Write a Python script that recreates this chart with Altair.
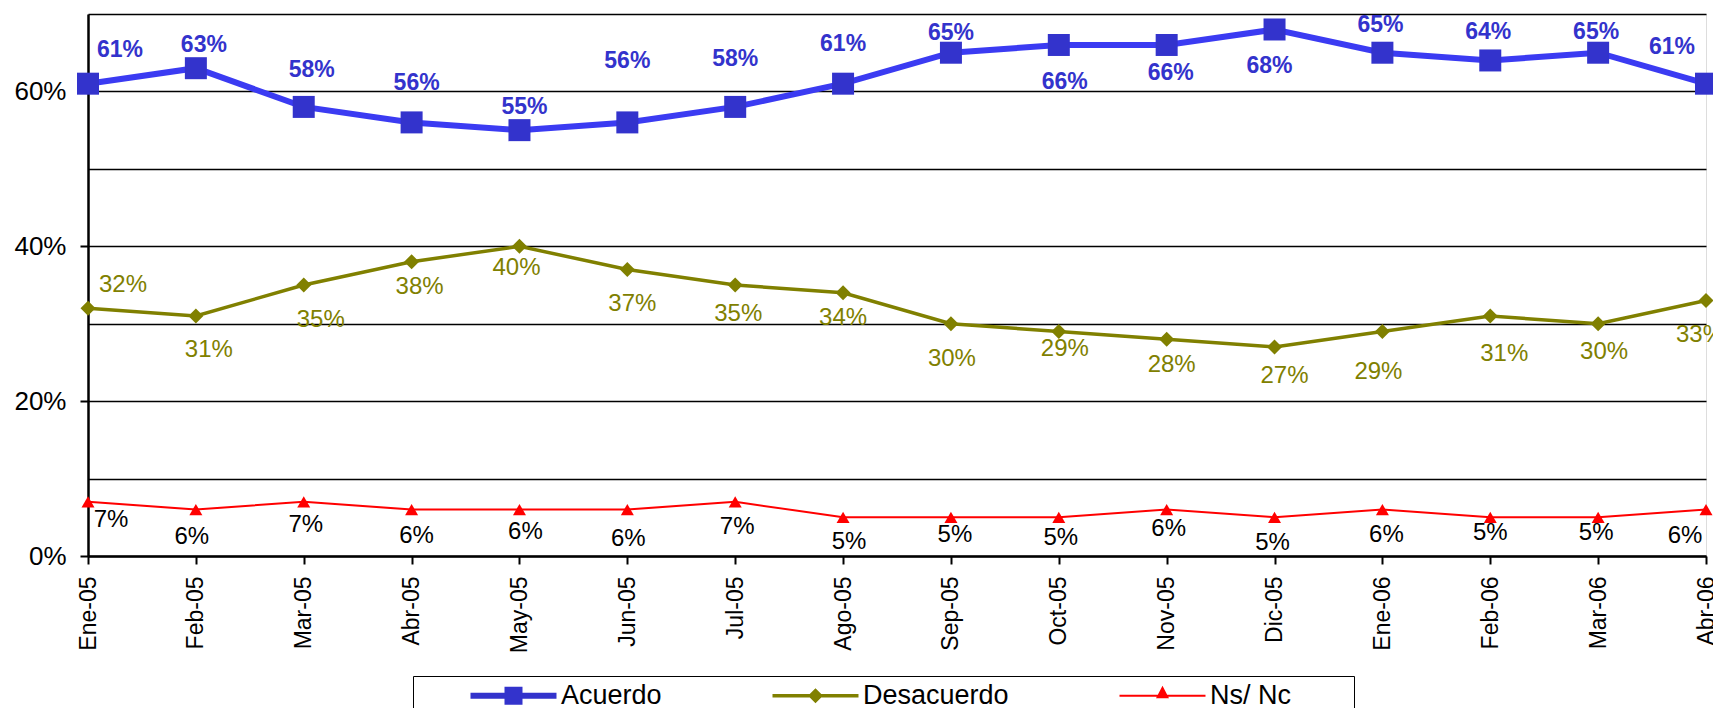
import json
import altair as alt
import pandas as pd

# ---------------- data ----------------
MONTHS = ["Ene-05", "Feb-05", "Mar-05", "Abr-05", "May-05", "Jun-05", "Jul-05", "Ago-05",
          "Sep-05", "Oct-05", "Nov-05", "Dic-05", "Ene-06", "Feb-06", "Mar-06", "Abr-06"]
ACUERDO = [61, 63, 58, 56, 55, 56, 58, 61, 65, 66, 66, 68, 65, 64, 65, 61]
DESACUERDO = [32, 31, 35, 38, 40, 37, 35, 34, 30, 29, 28, 27, 29, 31, 30, 33]
NSNC = [7, 6, 7, 6, 6, 6, 7, 5, 5, 5, 6, 5, 6, 5, 5, 6]
SERIES = ["Acuerdo", "Desacuerdo", "Ns/ Nc"]

# data-label placement (pixel offsets from each point: dx right, dy down)
ACU_DX = [32, 8, 8, 5, 5, 0, 0, 0, 0, 6, 4, -5, -2, -2, -2, -34]
ACU_DY = [-34, -23, -37, -39, -23, -61, -48, -40, -20, 37, 28, 37, -28, -28, -21, -37]
DES_DX = [35, 13, 17, 8, -3, 5, 3, 0, 1, 6, 5, 10, -4, 14, 6, -6]
DES_DY = [-23, 34, 35, 25, 22, 34, 29, 25, 35, 18, 26, 29, 41, 38, 28, 35]
NS_DX = [23, -4, 2, 5, 6, 1, 2, 6, 4, 2, 2, -2, 4, 0, -2, -21]
NS_DY = [18, 27, 23, 26, 22, 29, 25, 25, 18, 21, 19, 26, 25, 16, 16, 26]

# ---------------- layout / style ----------------
W, H = 1618, 542
YMAX = 70
XMAX = len(MONTHS) - 1
PX_X = W / XMAX
PX_Y = H / YMAX
FONT = "Liberation Sans"

COLORS = {"Acuerdo": "#3333CC", "Desacuerdo": "#808000", "Ns/ Nc": "#FF0000"}
LINE_COLORS = {"Acuerdo": "#3B3BF2", "Desacuerdo": "#808000", "Ns/ Nc": "#FF0000"}
LINE_W = {"Acuerdo": 6, "Desacuerdo": 3.5, "Ns/ Nc": 2}
SHAPES = {"Acuerdo": "square", "Desacuerdo": "diamond", "Ns/ Nc": "triangle-up"}
SIZES = {"Acuerdo": 484, "Desacuerdo": 225, "Ns/ Nc": 169}
LABEL_STYLE = {
    "Acuerdo": dict(color="#3333CC", fontWeight="bold", fontSize=23),
    "Desacuerdo": dict(color="#808000", fontWeight="normal", fontSize=24),
    "Ns/ Nc": dict(color="black", fontWeight="normal", fontSize=24),
}
# legend symbols: line segment + marker (unit = 11 px, symbol centred 11 px from entry start)
# the last one carries a tiny far-right sub-path so the legend box keeps its right margin
LEGEND_PATHS = [
    "M-1,-0.273H6.818V0.273H-1Z M2.091,-0.818H3.727V0.818H2.091Z",
    "M-1,-0.159H6.818V0.159H-1Z M2.909,-0.682L3.591,0L2.909,0.682L2.227,0Z",
    "M-1,-0.091H6.818V0.091H-1Z M2.909,-0.9L3.5,0.23L2.318,0.23Z M19.7,0L19.7,0.01L19.69,0.01Z",
]

rows = []
for name, vals, dxs, dys in [("Acuerdo", ACUERDO, ACU_DX, ACU_DY),
                             ("Desacuerdo", DESACUERDO, DES_DX, DES_DY),
                             ("Ns/ Nc", NSNC, NS_DX, NS_DY)]:
    for i, (v, dx, dy) in enumerate(zip(vals, dxs, dys)):
        rows.append({"i": i, "month": MONTHS[i], "series": name, "value": v,
                     "label": f"{v}%", "lx": i + dx / PX_X, "ly": v - dy / PX_Y})
df = pd.DataFrame(rows)

x_axis = alt.Axis(
    values=list(range(len(MONTHS))),
    labelExpr=f"{json.dumps(MONTHS)}[datum.value]",
    labelAngle=270, labelAlign="right", labelBaseline="middle",
    labelPadding=12, labelFontSize=23, labelFont=FONT, labelColor="black",
    labelFlush=False, labelOverlap=False,
    tickSize=8, tickWidth=2, tickColor="black",
    domainColor="black", domainWidth=2.5, grid=False, title=None,
)
y_axis = alt.Axis(
    values=list(range(0, YMAX + 1, 10)),
    labelExpr="datum.value % 20 == 0 && datum.value < 70 ? datum.value + '%' : ''",
    labelPadding=14, labelFontSize=26, labelFont=FONT, labelColor="black",
    tickSize=8, tickWidth=2, tickColor="black",
    tickOpacity={"condition": {"test": "datum.value % 20 == 0 && datum.value < 70", "value": 1}, "value": 0},
    domainColor="black", domainWidth=2.5,
    grid=True, gridColor="black", gridWidth=1.6, title=None,
)


def X(field):
    return alt.X(f"{field}:Q", scale=alt.Scale(domain=[0, XMAX], nice=False, zero=False), axis=x_axis)


def Y(field):
    return alt.Y(f"{field}:Q", scale=alt.Scale(domain=[0, YMAX], nice=False), axis=y_axis)


base = alt.Chart(df)
lines, points, texts = [], [], []
for s in SERIES:
    sub = base.transform_filter(alt.datum.series == s)
    lines.append(sub.mark_line(color=LINE_COLORS[s], strokeWidth=LINE_W[s]).encode(
        x=X("i"), y=Y("value"), order="i:Q"))
    points.append(sub.mark_point(shape=SHAPES[s], filled=True, size=SIZES[s], opacity=1,
                                 color=COLORS[s]).encode(x=X("i"), y=Y("value")))
    st = LABEL_STYLE[s]
    texts.append(sub.mark_text(font=FONT, align="center", baseline="middle", **st).encode(
        x=X("lx"), y=Y("ly"), text="label:N"))

legend_layer = base.transform_filter("false").mark_point(filled=True, opacity=1).encode(
    x=X("i"), y=Y("value"),
    color=alt.Color("series:N", scale=alt.Scale(domain=SERIES, range=[COLORS[s] for s in SERIES]),
                    legend=alt.Legend(
                        orient="none", legendX=325, legendY=662, direction="horizontal",
                        title="M", titleOrient="left", titleFontSize=27, titleFontWeight="normal",
                        titleFont=FONT, titlePadding=26, titleOpacity=0,
                        labelFontSize=27, labelFont=FONT, labelColor="black", labelOffset=66,
                        labelLimit=0, columnPadding=108, symbolSize=484, symbolStrokeWidth=0,
                        symbolOpacity=1,
                        strokeColor="black", fillColor="white", padding=6)),
    shape=alt.Shape("series:N", scale=alt.Scale(domain=SERIES, range=LEGEND_PATHS)),
)

chart = alt.layer(*lines, *points, *texts, legend_layer).properties(
    width=W, height=H,
    autosize=alt.AutoSizeParams(type="none"),
    padding={"left": 80, "top": 6, "right": 7, "bottom": 152},
).configure_view(stroke="black", strokeWidth=2).configure_legend(strokeWidth=2).configure(
    font=FONT, background="white")

chart.save("out.html", embed_options={"renderer": "svg", "actions": False})
